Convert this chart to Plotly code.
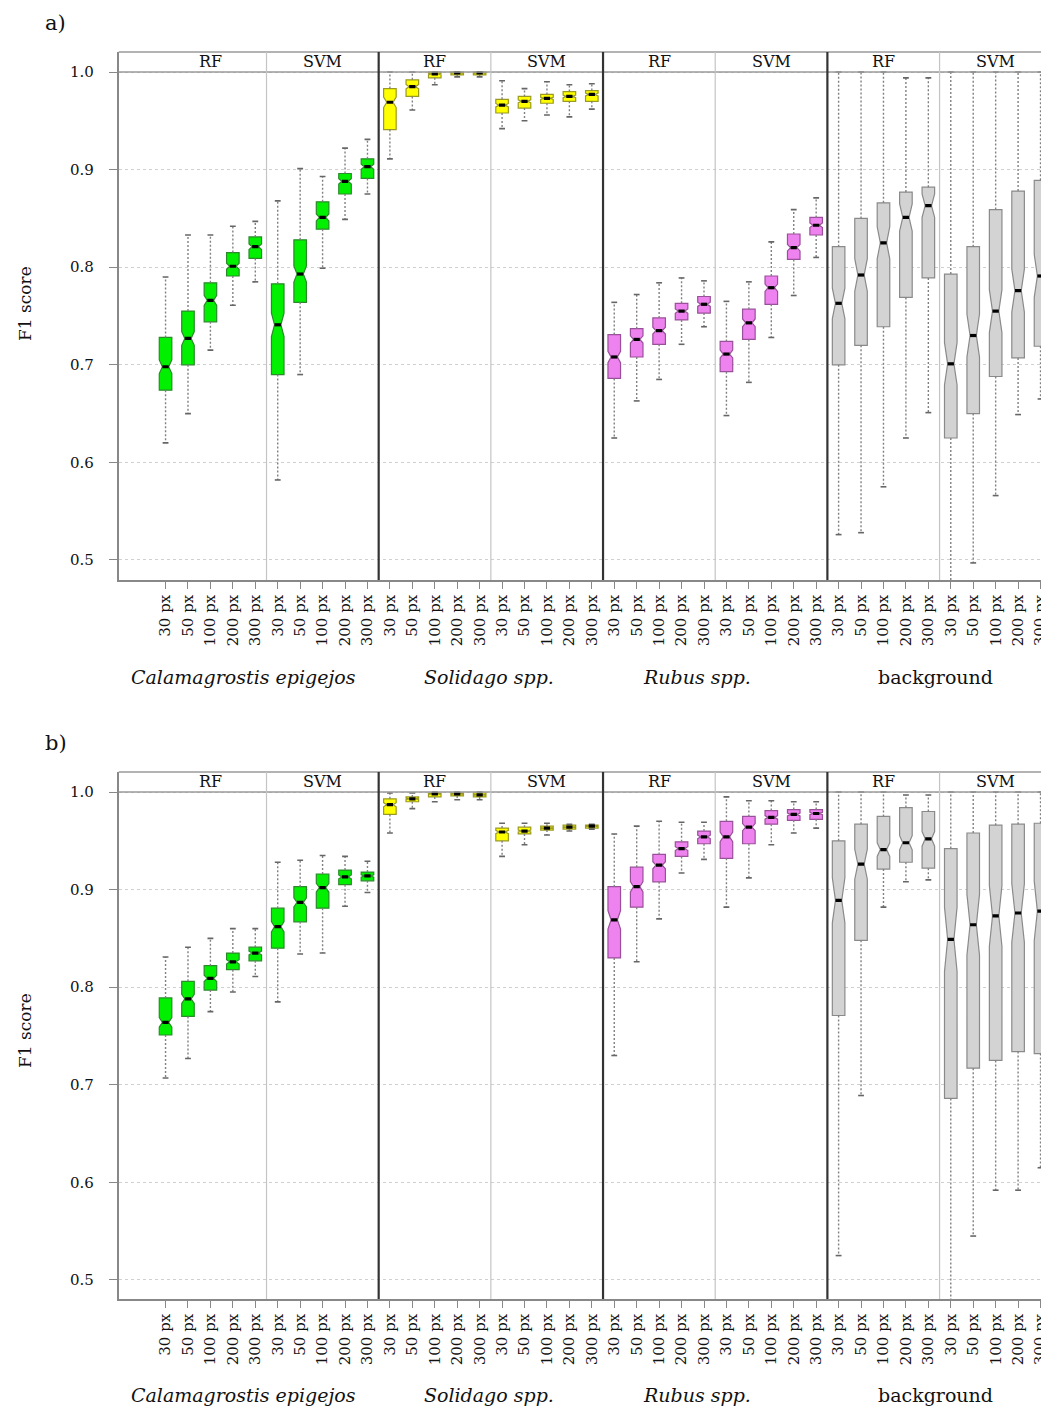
import plotly.graph_objects as go

CLASSES = ["<i>Calamagrostis epigejos</i>", "<i>Solidago spp.</i>", "<i>Rubus spp.</i>", "background"]
METHODS = ["RF", "SVM"]
SIZES = ["30 px", "50 px", "100 px", "200 px", "300 px"]

# Panel a) – order: class -> method -> size
A_LOW = [0.620, 0.650, 0.715, 0.761, 0.785, 0.582, 0.690, 0.799, 0.849, 0.875,
         0.911, 0.961, 0.987, 0.995, 0.995, 0.942, 0.950, 0.956, 0.954, 0.962,
         0.625, 0.663, 0.685, 0.721, 0.739, 0.648, 0.682, 0.728, 0.771, 0.810,
         0.526, 0.528, 0.575, 0.625, 0.651, 0.475, 0.497, 0.566, 0.649, 0.665]
A_Q1 = [0.674, 0.700, 0.744, 0.791, 0.809, 0.690, 0.764, 0.839, 0.875, 0.891,
        0.941, 0.975, 0.994, 0.997, 0.997, 0.958, 0.963, 0.968, 0.970, 0.970,
        0.686, 0.708, 0.721, 0.746, 0.753, 0.693, 0.726, 0.762, 0.808, 0.833,
        0.700, 0.720, 0.739, 0.769, 0.789, 0.625, 0.650, 0.688, 0.707, 0.719]
A_MED = [0.698, 0.727, 0.766, 0.801, 0.821, 0.741, 0.793, 0.851, 0.888, 0.903,
         0.969, 0.985, 0.998, 0.999, 0.999, 0.966, 0.970, 0.973, 0.975, 0.977,
         0.708, 0.726, 0.735, 0.755, 0.762, 0.711, 0.743, 0.779, 0.820, 0.843,
         0.763, 0.792, 0.825, 0.851, 0.863, 0.701, 0.730, 0.755, 0.776, 0.791]
A_Q3 = [0.728, 0.755, 0.784, 0.815, 0.831, 0.783, 0.828, 0.867, 0.896, 0.911,
        0.983, 0.992, 1.000, 1.000, 1.000, 0.972, 0.975, 0.977, 0.980, 0.981,
        0.731, 0.737, 0.748, 0.763, 0.770, 0.724, 0.757, 0.791, 0.834, 0.851,
        0.821, 0.850, 0.866, 0.877, 0.882, 0.793, 0.821, 0.859, 0.878, 0.889]
A_HIGH = [0.790, 0.833, 0.833, 0.842, 0.847, 0.868, 0.901, 0.893, 0.922, 0.931,
          1.000, 1.000, 1.000, 1.000, 1.000, 0.991, 0.983, 0.990, 0.987, 0.988,
          0.764, 0.772, 0.784, 0.789, 0.786, 0.765, 0.785, 0.826, 0.859, 0.871,
          1.000, 1.000, 1.000, 0.994, 0.994, 1.000, 1.000, 1.000, 1.000, 1.000]

# Panel b)
B_LOW = [0.707, 0.727, 0.775, 0.795, 0.811, 0.785, 0.834, 0.835, 0.883, 0.897,
         0.958, 0.983, 0.990, 0.992, 0.992, 0.934, 0.946, 0.956, 0.960, 0.962,
         0.730, 0.826, 0.870, 0.917, 0.931, 0.882, 0.912, 0.946, 0.958, 0.963,
         0.525, 0.689, 0.882, 0.908, 0.910, 0.470, 0.545, 0.592, 0.592, 0.615]
B_Q1 = [0.751, 0.770, 0.797, 0.818, 0.827, 0.840, 0.867, 0.881, 0.905, 0.909,
        0.977, 0.990, 0.995, 0.996, 0.995, 0.950, 0.957, 0.961, 0.962, 0.963,
        0.830, 0.882, 0.908, 0.934, 0.947, 0.932, 0.947, 0.967, 0.971, 0.972,
        0.771, 0.848, 0.921, 0.928, 0.922, 0.686, 0.717, 0.725, 0.734, 0.732]
B_MED = [0.764, 0.788, 0.809, 0.826, 0.835, 0.862, 0.887, 0.902, 0.913, 0.914,
         0.987, 0.993, 0.998, 0.998, 0.997, 0.959, 0.960, 0.963, 0.964, 0.965,
         0.869, 0.903, 0.925, 0.942, 0.954, 0.954, 0.964, 0.974, 0.977, 0.978,
         0.889, 0.926, 0.941, 0.948, 0.952, 0.849, 0.864, 0.873, 0.876, 0.878]
B_Q3 = [0.789, 0.806, 0.822, 0.835, 0.841, 0.881, 0.903, 0.916, 0.920, 0.918,
        0.993, 0.995, 0.999, 0.999, 0.999, 0.963, 0.964, 0.965, 0.966, 0.966,
        0.903, 0.923, 0.936, 0.949, 0.960, 0.970, 0.975, 0.981, 0.982, 0.982,
        0.950, 0.967, 0.975, 0.984, 0.980, 0.942, 0.958, 0.966, 0.967, 0.968]
B_HIGH = [0.831, 0.841, 0.850, 0.860, 0.860, 0.928, 0.930, 0.935, 0.934, 0.929,
          0.999, 0.999, 1.000, 1.000, 1.000, 0.968, 0.968, 0.968, 0.967, 0.967,
          0.957, 0.965, 0.970, 0.969, 0.969, 0.995, 0.991, 0.991, 0.990, 0.990,
          1.000, 1.000, 1.000, 0.997, 0.997, 1.000, 1.000, 1.000, 1.000, 1.000]

Y_TICKS = [0.5, 0.6, 0.7, 0.8, 0.9, 1.0]
NOTCH_N = 150  # effective sample size for notch half-width (1.58*IQR/sqrt(n))

FILL = ["#00f000", "#ffff00", "#ee82ee", "#d3d3d3"]
EDGE = ["#2a8a2a", "#9a9a20", "#9a4f9a", "#8a8a8a"]
FONT = "DejaVu Serif"
BOX_W = 0.56
NOTCH_W = 0.25

# page is 1049x1409, the page body has an 8px margin -> figure is 8px smaller
OFF = 8
W, H = 1049 - OFF, 1409 - OFF


def px_x(px):
    return (px - OFF) / W


def px_y(py):
    return 1 - (py - OFF) / H


XR = [-2.089, 39.244]
XDOM = [px_x(119), 1.0]

fig = go.Figure()


def add_panel(low, q1, med, q3, high, xa, ya):
    n = len(med)
    for c in range(len(CLASSES)):
        idx = list(range(c * 10, c * 10 + 10))
        fig.add_trace(go.Box(
            x=idx,
            q1=[q1[i] for i in idx], median=[med[i] for i in idx], q3=[q3[i] for i in idx],
            lowerfence=[q1[i] for i in idx], upperfence=[q3[i] for i in idx],
            notchspan=[1.58 * (q3[i] - q1[i]) / NOTCH_N ** 0.5 for i in idx],
            notched=True, notchwidth=NOTCH_W, width=BOX_W, whiskerwidth=0,
            fillcolor=FILL[c], line=dict(color=EDGE[c], width=1.2),
            boxpoints=False, showlegend=False, hoverinfo="skip",
            xaxis=xa, yaxis=ya))
    wx, wy, cx, cy, mx, my = [], [], [], [], [], []
    cap = 0.13
    hw = BOX_W / 2 * (1 - 2 * NOTCH_W)
    for i in range(n):
        wx += [i, i, None, i, i, None]
        wy += [q3[i], high[i], None, q1[i], low[i], None]
        cx += [i - cap, i + cap, None, i - cap, i + cap, None]
        cy += [high[i], high[i], None, low[i], low[i], None]
        mx += [i - hw, i + hw, None]
        my += [med[i], med[i], None]
    fig.add_trace(go.Scatter(x=wx, y=wy, mode="lines", line=dict(color="#808080", width=1.4, dash="2px,2px"),
                             showlegend=False, hoverinfo="skip", xaxis=xa, yaxis=ya))
    fig.add_trace(go.Scatter(x=cx, y=cy, mode="lines", line=dict(color="#666666", width=1.6),
                             showlegend=False, hoverinfo="skip", xaxis=xa, yaxis=ya))
    fig.add_trace(go.Scatter(x=mx, y=my, mode="lines", line=dict(color="#000000", width=3.2),
                             showlegend=False, hoverinfo="skip", xaxis=xa, yaxis=ya))


add_panel(A_LOW, A_Q1, A_MED, A_Q3, A_HIGH, "x", "y")
add_panel(B_LOW, B_Q1, B_MED, B_Q3, B_HIGH, "x2", "y2")

panels = [
    # (xref, yref, label, label_y, strip_top, one_y, bottom, ylabel_y, class_y, yrange)
    ("x", "y", "a)", 23, 52, 72, 580, 303, 677, [0.4795, 1.0205]),
    ("x2", "y2", "b)", 743, 772, 792, 1299, 1030, 1395, [0.4805, 1.0205]),
]

shapes, annotations = [], []
tick_text = SIZES * (len(CLASSES) * len(METHODS))
for k, (xr, yr, lab, laby, stop, oney, bot, ylaby, clsy, yrange) in enumerate(panels):
    sfx = "" if k == 0 else "2"
    fig.update_layout(**{
        "xaxis" + sfx: dict(domain=XDOM, range=XR, anchor="y" + sfx, tickmode="array",
                            tickvals=list(range(40)), ticktext=tick_text, tickangle=-90,
                            ticks="outside", ticklen=7, tickcolor="#888", showline=True,
                            linecolor="#888", linewidth=1.5, showgrid=False, zeroline=False,
                            ticklabeloverflow="allow",
                            tickfont=dict(family=FONT, size=15, color="#111")),
        "yaxis" + sfx: dict(domain=[px_y(bot), px_y(stop)], range=yrange, anchor="x" + sfx,
                            tickmode="array", tickvals=Y_TICKS, ticktext=[f"{v:.1f}" for v in Y_TICKS],
                            ticks="outside", ticklen=8, tickcolor="#888", showline=True,
                            linecolor="#888", linewidth=1.5, showgrid=True, gridcolor="#d0d0d0",
                            griddash="3px,3px", gridwidth=1, zeroline=False, ticklabelstandoff=12,
                            tickfont=dict(family=FONT, size=15, color="#111")),
    })
    # strip lines
    for yy in (stop, oney):
        shapes.append(dict(type="line", xref="paper", yref="paper", x0=XDOM[0], x1=1.0,
                           y0=px_y(yy), y1=px_y(yy), line=dict(color="#9a9a9a", width=1.6), layer="above"))
    # method separators
    for m in range(len(CLASSES)):
        shapes.append(dict(type="line", xref=xr, yref="paper", x0=m * 10 + 4.5, x1=m * 10 + 4.5,
                           y0=px_y(bot), y1=px_y(stop), line=dict(color="#c4c4c4", width=1.2), layer="above"))
    # class separators
    for m in range(1, len(CLASSES)):
        shapes.append(dict(type="line", xref=xr, yref="paper", x0=m * 10 - 0.5, x1=m * 10 - 0.5,
                           y0=px_y(bot), y1=px_y(stop), line=dict(color="#333333", width=2.2), layer="above"))
    # strip labels
    for c in range(len(CLASSES)):
        for mi, meth in enumerate(METHODS):
            annotations.append(dict(text=meth, xref=xr, yref="paper", x=c * 10 + mi * 5 + 2,
                                    y=px_y((stop + oney) / 2), showarrow=False,
                                    xanchor="center", yanchor="middle",
                                    font=dict(family=FONT, size=16, color="#111")))
    # class labels
    for c, cx in enumerate([3.47, 14.4, 23.7, 34.3]):
        annotations.append(dict(text=CLASSES[c], xref=xr, yref="paper", x=cx, y=px_y(clsy),
                                showarrow=False, xanchor="center", yanchor="middle",
                                font=dict(family=FONT, size=19, color="#111")))
    annotations.append(dict(text="F1 score", xref="paper", yref="paper", x=px_x(25), y=px_y(ylaby),
                            textangle=-90, showarrow=False, xanchor="center", yanchor="middle",
                            font=dict(family=FONT, size=17, color="#111")))
    annotations.append(dict(text=lab, xref="paper", yref="paper", x=px_x(56), y=px_y(laby),
                            showarrow=False, xanchor="center", yanchor="middle",
                            font=dict(family=FONT, size=21, color="#111")))

fig.update_layout(width=W, height=H, margin=dict(l=0, r=0, t=0, b=0),
                  paper_bgcolor="white", plot_bgcolor="white", boxmode="overlay",
                  shapes=shapes, annotations=annotations, showlegend=False)

fig.write_html("out.html")
